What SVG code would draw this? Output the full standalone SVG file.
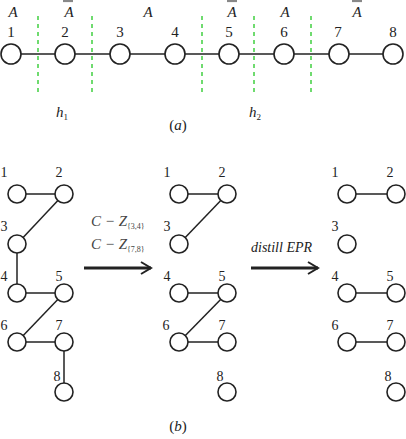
<svg xmlns="http://www.w3.org/2000/svg" width="406" height="439" viewBox="0 0 406 439">
<style>
.n{fill:#fff;stroke:#222;stroke-width:1.6}
.e{stroke:#222;stroke-width:1.5;fill:none}
.t{font-family:"Liberation Serif","Times New Roman",serif;font-size:15px;fill:#222;text-anchor:middle}
.s{font-family:"Liberation Serif","Times New Roman",serif;font-size:14px;fill:#222;text-anchor:middle}
.i{font-style:italic}
.cut{stroke:#3c3;stroke-width:1.4;stroke-dasharray:4,4}
.bar{stroke:#888;stroke-width:2.2}
.arr{stroke:#222;stroke-width:3;fill:none}
</style>
<rect width="406" height="439" fill="#fff"/>
<g id="connectors">
<line class="e" x1="11" y1="54" x2="393" y2="54"/>
<line class="e" x1="17" y1="194" x2="64" y2="194"/>
<line class="e" x1="64" y1="194" x2="17" y2="244"/>
<line class="e" x1="17" y1="244" x2="17" y2="293"/>
<line class="e" x1="17" y1="293" x2="64" y2="293"/>
<line class="e" x1="64" y1="293" x2="17" y2="342"/>
<line class="e" x1="17" y1="342" x2="64" y2="342"/>
<line class="e" x1="64" y1="342" x2="64" y2="392"/>
<line class="e" x1="179" y1="194" x2="227" y2="194"/>
<line class="e" x1="227" y1="194" x2="179" y2="244"/>
<line class="e" x1="179" y1="293" x2="227" y2="293"/>
<line class="e" x1="227" y1="293" x2="179" y2="342"/>
<line class="e" x1="179" y1="342" x2="227" y2="342"/>
<line class="e" x1="347" y1="194" x2="396" y2="194"/>
<line class="e" x1="347" y1="293" x2="396" y2="293"/>
<line class="e" x1="347" y1="342" x2="396" y2="342"/>
<line class="arr" x1="84" y1="268" x2="151" y2="268"/>
<polyline class="e" points="141,262 151,268 141,274" style="stroke-width:2"/>
<line class="arr" x1="251" y1="268" x2="318" y2="268"/>
<polyline class="e" points="308,262 318,268 308,274" style="stroke-width:2"/>
</g>
<g id="cuts">
<line class="cut" x1="38" y1="16" x2="38" y2="93"/>
<line class="cut" x1="92" y1="16" x2="92" y2="93"/>
<line class="cut" x1="202" y1="16" x2="202" y2="93"/>
<line class="cut" x1="254" y1="16" x2="254" y2="93"/>
<line class="cut" x1="311" y1="16" x2="311" y2="93"/>
</g>
<g id="labels-a">
<text class="t i" x="13" y="17">A</text>
<text class="t i" x="69" y="17">A</text><line class="bar" x1="63" y1="1" x2="73" y2="1"/>
<text class="t i" x="148" y="17">A</text>
<text class="t i" x="232" y="17">A</text><line class="bar" x1="227" y1="1" x2="237" y2="1"/>
<text class="t i" x="285" y="17">A</text>
<text class="t i" x="357" y="17">A</text><line class="bar" x1="352" y1="1" x2="362" y2="1"/>
<text class="t" x="11" y="37">1</text>
<text class="t" x="65" y="37">2</text>
<text class="t" x="120" y="37">3</text>
<text class="t" x="175" y="37">4</text>
<text class="t" x="229" y="37">5</text>
<text class="t" x="284" y="37">6</text>
<text class="t" x="338" y="37">7</text>
<text class="t" x="393" y="37">8</text>
<text class="t i" x="62" y="117">h<tspan font-size="9" font-style="normal" dy="3">1</tspan></text>
<text class="t i" x="255" y="117">h<tspan font-size="9" font-style="normal" dy="3">2</tspan></text>
<text class="t" x="178" y="130">(<tspan font-style="italic">a</tspan>)</text>
</g>
<g id="a1"><circle class="n" cx="11" cy="54" r="10"/></g>
<g id="a2"><circle class="n" cx="65" cy="54" r="10"/></g>
<g id="a3"><circle class="n" cx="120" cy="54" r="10"/></g>
<g id="a4"><circle class="n" cx="175" cy="54" r="10"/></g>
<g id="a5"><circle class="n" cx="229" cy="54" r="10"/></g>
<g id="a6"><circle class="n" cx="284" cy="54" r="10"/></g>
<g id="a7"><circle class="n" cx="339" cy="54" r="10"/></g>
<g id="a8"><circle class="n" cx="393" cy="54" r="10"/></g>
<g id="b1-1"><circle class="n" cx="17" cy="194" r="9"/><text class="s" x="4" y="177">1</text></g>
<g id="b1-2"><circle class="n" cx="64" cy="194" r="9"/><text class="s" x="59" y="177">2</text></g>
<g id="b1-3"><circle class="n" cx="17" cy="244" r="9"/><text class="s" x="4" y="231">3</text></g>
<g id="b1-4"><circle class="n" cx="17" cy="293" r="9"/><text class="s" x="4" y="281">4</text></g>
<g id="b1-5"><circle class="n" cx="64" cy="293" r="9"/><text class="s" x="59" y="281">5</text></g>
<g id="b1-6"><circle class="n" cx="17" cy="342" r="9"/><text class="s" x="4" y="330">6</text></g>
<g id="b1-7"><circle class="n" cx="64" cy="342" r="9"/><text class="s" x="59" y="330">7</text></g>
<g id="b1-8"><circle class="n" cx="64" cy="392" r="9"/><text class="s" x="57" y="381">8</text></g>
<g id="b2-1"><circle class="n" cx="179" cy="194" r="9"/><text class="s" x="167" y="177">1</text></g>
<g id="b2-2"><circle class="n" cx="227" cy="194" r="9"/><text class="s" x="222" y="177">2</text></g>
<g id="b2-3"><circle class="n" cx="179" cy="244" r="9"/><text class="s" x="167" y="231">3</text></g>
<g id="b2-4"><circle class="n" cx="179" cy="293" r="9"/><text class="s" x="167" y="281">4</text></g>
<g id="b2-5"><circle class="n" cx="227" cy="293" r="9"/><text class="s" x="222" y="281">5</text></g>
<g id="b2-6"><circle class="n" cx="179" cy="342" r="9"/><text class="s" x="166" y="330">6</text></g>
<g id="b2-7"><circle class="n" cx="227" cy="342" r="9"/><text class="s" x="222" y="330">7</text></g>
<g id="b2-8"><circle class="n" cx="227" cy="392" r="9"/><text class="s" x="220" y="381">8</text></g>
<g id="b3-1"><circle class="n" cx="347" cy="194" r="9"/><text class="s" x="335" y="177">1</text></g>
<g id="b3-2"><circle class="n" cx="396" cy="194" r="9"/><text class="s" x="390" y="177">2</text></g>
<g id="b3-3"><circle class="n" cx="347" cy="244" r="9"/><text class="s" x="335" y="231">3</text></g>
<g id="b3-4"><circle class="n" cx="347" cy="293" r="9"/><text class="s" x="335" y="281">4</text></g>
<g id="b3-5"><circle class="n" cx="396" cy="293" r="9"/><text class="s" x="390" y="281">5</text></g>
<g id="b3-6"><circle class="n" cx="347" cy="342" r="9"/><text class="s" x="335" y="330">6</text></g>
<g id="b3-7"><circle class="n" cx="396" cy="342" r="9"/><text class="s" x="390" y="330">7</text></g>
<g id="b3-8"><circle class="n" cx="396" cy="392" r="9"/><text class="s" x="388" y="381">8</text></g>
<g id="labels-b">
<text class="t i" x="91" y="226" style="text-anchor:start;fill:#444">C − Z<tspan font-size="8" font-style="normal" dy="3">{3,4}</tspan></text>
<text class="t i" x="91" y="249" style="text-anchor:start;fill:#444">C − Z<tspan font-size="8" font-style="normal" dy="3">{7,8}</tspan></text>
<text class="s i" x="251" y="252" style="text-anchor:start">distill  EPR</text>
<text class="t" x="178" y="431">(<tspan font-style="italic">b</tspan>)</text>
</g>
</svg>
